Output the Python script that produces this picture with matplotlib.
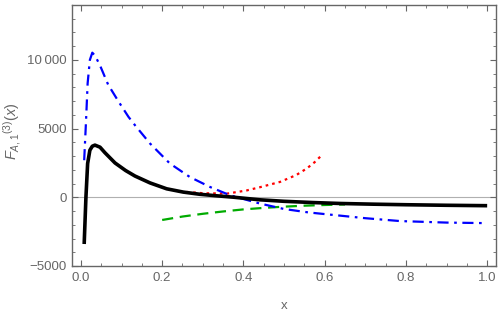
import numpy as np
import matplotlib.pyplot as plt
from matplotlib.ticker import MultipleLocator, FixedLocator

plt.rcParams['font.family'] = ['Liberation Sans', 'DejaVu Sans']
plt.rcParams['mathtext.fontset'] = 'custom'
plt.rcParams['mathtext.rm'] = 'Liberation Sans'
plt.rcParams['mathtext.it'] = 'Liberation Sans:italic'

# values
x_black = [0.008, 0.0123, 0.0165, 0.022, 0.028, 0.0345, 0.047, 0.059, 0.084, 0.11, 0.133, 0.17, 0.211,
           0.252, 0.293, 0.334, 0.375, 0.44, 0.5, 0.57, 0.64, 0.72, 0.8, 0.9, 1.0]
y_black = [-3400, 0, 2460, 3430, 3720, 3800, 3650, 3250, 2500, 1950, 1550, 1050, 620,
           380, 220, 110, 10, -180, -290, -380, -450, -500, -540, -580, -610]

x_blue = [0.008, 0.0123, 0.0165, 0.022, 0.028, 0.035, 0.047, 0.067, 0.092, 0.117, 0.133, 0.17, 0.219,
          0.268, 0.318, 0.367, 0.44, 0.5, 0.56, 0.62, 0.7, 0.786, 0.9, 1.0]
y_blue = [2700, 5400, 8300, 10000, 10530, 10300, 9600, 8200, 7000, 5860, 5250, 3920, 2460,
          1480, 750, 150, -450, -850, -1100, -1280, -1520, -1730, -1840, -1880]

x_red = [0.26, 0.3, 0.36, 0.408, 0.44, 0.49, 0.53, 0.556, 0.575, 0.593]
y_red = [390, 300, 270, 500, 730, 1120, 1620, 2100, 2550, 3070]

x_green = [0.2, 0.25, 0.3, 0.35, 0.4, 0.45, 0.5, 0.55, 0.6, 0.65]
y_green = [-1650, -1400, -1200, -1030, -880, -770, -680, -610, -560, -520]

yticks = [-5000, 0, 5000, 10000]
ylabels = ['\u22125000', '0', '5000', '10\u2009000']
xticks = [0.0, 0.2, 0.4, 0.6, 0.8, 1.0]
xlabels = ['0.0', '0.2', '0.4', '0.6', '0.8', '1.0']

gray = '#666666'

fig = plt.figure(figsize=(5.01, 3.14), dpi=100)
ax = fig.add_axes([0.1437, 0.1529, 0.8457, 0.8311])

ax.axhline(0, color='#b0b0b0', lw=0.8, zorder=1)

ax.plot(x_green, y_green, color=(0.0, 0.67, 0.0), lw=1.6, dashes=(5, 3))
ax.plot(x_red, y_red, color='red', lw=1.6, dashes=(1.2, 1.8))
ax.plot(x_blue, y_blue, color='blue', lw=1.6, dashes=(5, 2.5, 1.2, 2.5))
ax.plot(x_black, y_black, color='black', lw=2.6, solid_capstyle='butt', solid_joinstyle='round')

ax.set_xlim(-0.022, 1.021)
ax.set_ylim(-5000, 14000)

ax.xaxis.set_major_locator(FixedLocator(xticks))
ax.xaxis.set_minor_locator(MultipleLocator(0.05))
ax.yaxis.set_major_locator(FixedLocator(yticks))
ax.yaxis.set_minor_locator(MultipleLocator(1000))
ax.set_yticklabels(ylabels)
ax.set_xticklabels(xlabels)

for s in ax.spines.values():
    s.set_color(gray)
    s.set_linewidth(1.0)

ax.tick_params(which='both', direction='in', top=True, right=True, color=gray,
               labelcolor=gray, labelsize=9.5)
ax.tick_params(which='major', length=4, width=0.8, pad=4)
ax.tick_params(which='minor', length=2, width=0.6)

ax.set_xlabel('x', color=gray, fontsize=9.5, labelpad=12)
ax.set_ylabel(r'$F_{A,1}{}^{(3)}(x)$', color=gray, fontsize=10.5)
ax.yaxis.set_label_coords(-0.115, 0.517)

fig.savefig('out.png', dpi=100)
